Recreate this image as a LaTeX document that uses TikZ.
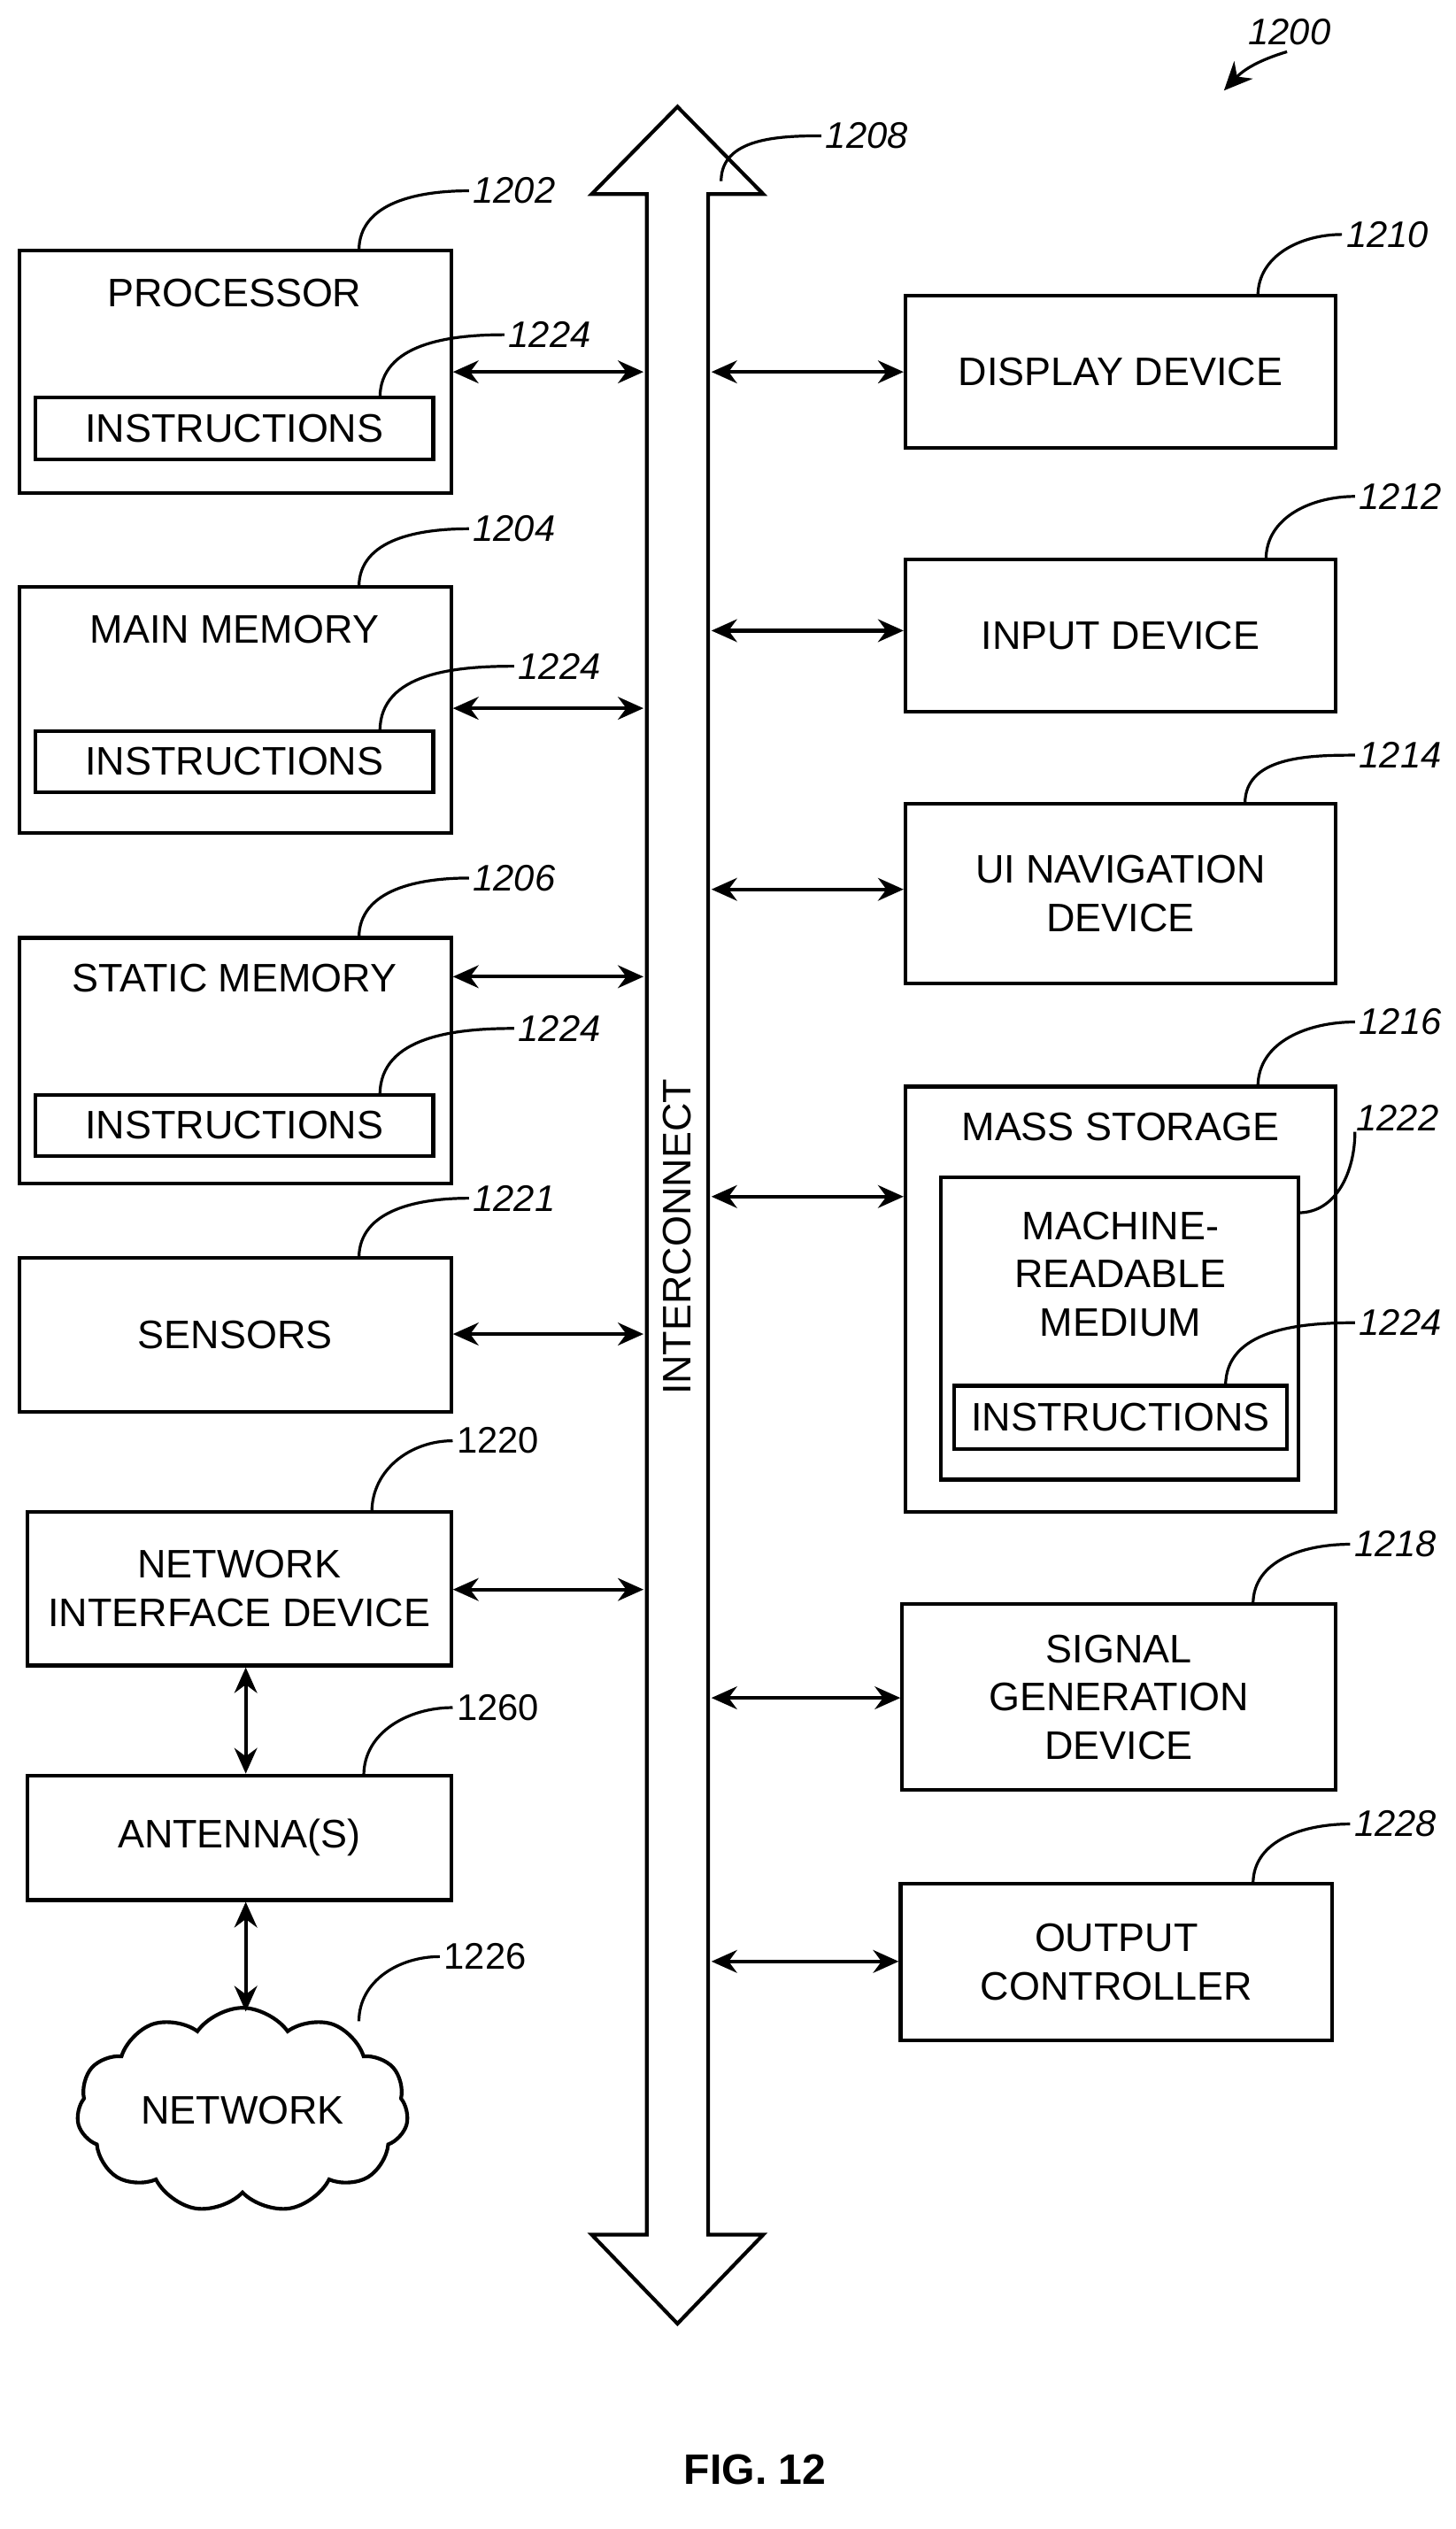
\documentclass[tikz,border=0pt]{standalone}
\usepackage{fontspec}
\setmainfont{Liberation Sans}
\usetikzlibrary{arrows.meta,shapes.symbols}
\tikzset{
  box/.style={draw,line width=1.3pt,inner sep=0pt},
  lbl/.style={font=\fontsize{14}{17}\selectfont,align=center},
  dbl/.style={line width=1.3pt,{Stealth[length=9pt,width=8pt]}-{Stealth[length=9pt,width=8pt]}},
  lead/.style={line width=1pt},
  num/.style={font=\fontsize{13}{15}\selectfont\itshape,right,inner sep=1pt},
}
\newcommand{\bx}[5]{\node[box,minimum width={(#4-#2)*0.02cm},minimum height={(#5-#3)*0.02cm}] (#1) at ({(#2+#4)/2},{(#3+#5)/2}) {};}
\newcommand{\leader}[3]{\draw[lead] #1 to[out=90,in=180] #2 node[num] {#3};}
\begin{document}
\begin{tikzpicture}[x=0.02cm,y=-0.02cm]
\useasboundingbox (0,0) rectangle (900,1564);

% left column
\bx{proc}{12}{155}{279}{305}
\node[lbl] at (145,181) {PROCESSOR};
\bx{procI}{22}{246}{268}{284}
\node[lbl] at (procI) {INSTRUCTIONS};
\bx{main}{12}{363}{279}{515}
\node[lbl] at (145,389) {MAIN MEMORY};
\bx{mainI}{22}{452}{268}{490}
\node[lbl] at (mainI) {INSTRUCTIONS};
\bx{stat}{12}{580}{279}{732}
\node[lbl] at (145,605) {STATIC MEMORY};
\bx{statI}{22}{677}{268}{715}
\node[lbl] at (statI) {INSTRUCTIONS};
\bx{sens}{12}{778}{279}{873}
\node[lbl] at (sens) {SENSORS};
\bx{nid}{17}{935}{279}{1030}
\node[lbl] at (nid) {NETWORK\\INTERFACE DEVICE};
\bx{ant}{17}{1098}{279}{1175}
\node[lbl] at (ant) {ANTENNA(S)};
\node[cloud,draw,line width=1.3pt,cloud puffs=11,cloud puff arc=110,aspect=1.9,
  minimum width=4.1cm,minimum height=2.3cm,lbl] (net) at (150,1305) {NETWORK};

% interconnect
\draw[line width=1.3pt,fill=white] (419,66) -- (472,120) -- (438,120) -- (438,1382) -- (472,1382)
  -- (419,1437) -- (366,1382) -- (400,1382) -- (400,120) -- (366,120) -- cycle;
\node[lbl,rotate=90] (bus) at (419,765) {INTERCONNECT};

% right column
\bx{disp}{560}{183}{826}{277}
\node[lbl] at (disp) {DISPLAY DEVICE};
\bx{inp}{560}{346}{826}{440}
\node[lbl] at (inp) {INPUT DEVICE};
\bx{ui}{560}{497}{826}{608}
\node[lbl] at (ui) {UI NAVIGATION\\DEVICE};
\bx{mass}{560}{672}{826}{935}
\node[lbl] at (693,697) {MASS STORAGE};
\bx{mrm}{582}{728}{803}{915}
\node[lbl] at (693,788) {MACHINE-\\READABLE\\MEDIUM};
\bx{massI}{590}{857}{796}{896}
\node[lbl] at (massI) {INSTRUCTIONS};
\bx{sig}{558}{992}{826}{1107}
\node[lbl] at (sig) {SIGNAL\\GENERATION\\DEVICE};
\bx{outc}{557}{1165}{824}{1262}
\node[lbl] at (outc) {OUTPUT\\CONTROLLER};

% bus links
\foreach \n/\y in {proc/230,main/438,stat/604,sens/825,nid/983}
  \draw[dbl] (\n.east |- 0,\y) -- (398,\y);
\foreach \n/\y in {disp/230,inp/390,ui/550,mass/740,sig/1050,outc/1213}
  \draw[dbl] (440,\y) -- (\n.west |- 0,\y);
\draw[dbl] (nid.south -| 152,0) -- (ant.north -| 152,0);
\draw[dbl] (ant.south -| 152,0) -- (152,1244);

% reference numerals
\leader{(222,155)}{(290,118)}{1202}
\leader{(235,246)}{(312,207)}{1224}
\leader{(222,363)}{(290,327)}{1204}
\leader{(235,452)}{(318,412)}{1224}
\leader{(222,580)}{(290,543)}{1206}
\leader{(235,677)}{(318,636)}{1224}
\leader{(222,778)}{(290,741)}{1221}
\draw[lead] (230,935) to[out=90,in=180] (280,891) node[num,font=\fontsize{13}{15}\selectfont] {1220};
\draw[lead] (225,1098) to[out=90,in=180] (280,1056) node[num,font=\fontsize{13}{15}\selectfont] {1260};
\draw[lead] (222,1250) to[out=90,in=180] (272,1210) node[num,font=\fontsize{13}{15}\selectfont] {1226};
\leader{(446,112)}{(508,84)}{1208}
\leader{(778,183)}{(830,145)}{1210}
\leader{(783,346)}{(838,307)}{1212}
\leader{(770,497)}{(838,467)}{1214}
\leader{(778,672)}{(838,632)}{1216}
\draw[lead] (803,750) to[out=0,in=270] (838,700) node[num,above right,inner sep=0pt] {1222};
\leader{(758,857)}{(838,818)}{1224}
\leader{(775,992)}{(835,955)}{1218}
\leader{(775,1165)}{(835,1128)}{1228}
\node[num] (fig) at (770,20) {1200};
\draw[line width=1pt,-{Stealth[length=10pt,width=9pt]}] (796,32) to[bend right=15] (757,56);

\node[font=\fontsize{15}{18}\selectfont\bfseries] (cap) at (467,1527) {FIG. 12};
\end{tikzpicture}
\end{document}
